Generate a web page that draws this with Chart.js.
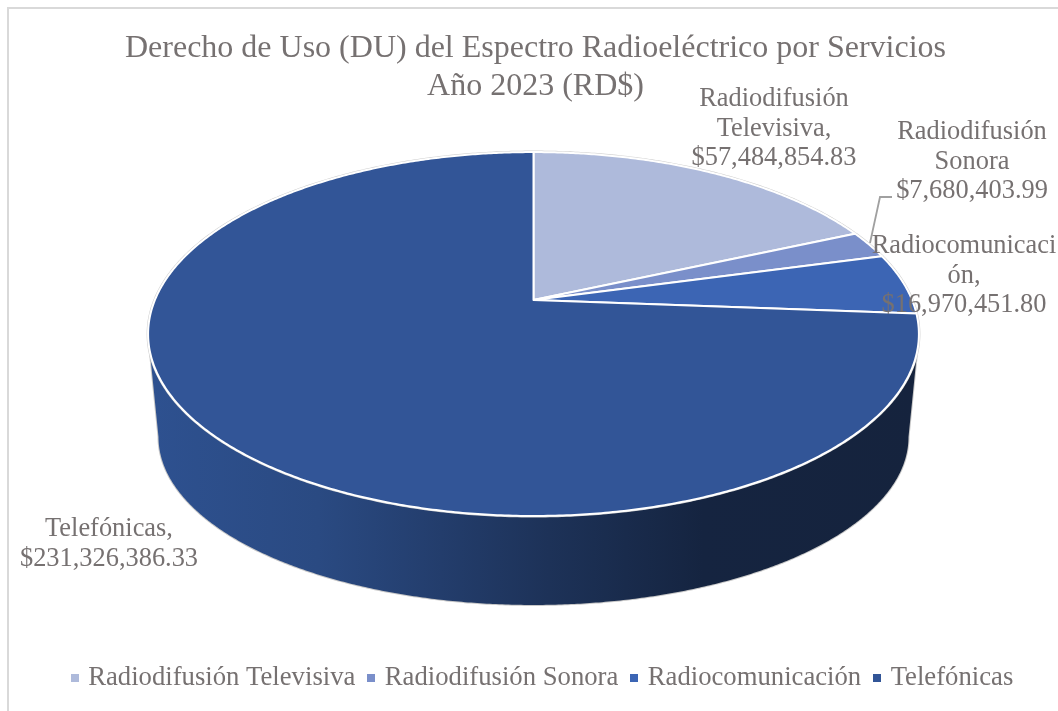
<!DOCTYPE html>
<html><head><meta charset="utf-8">
<style>html,body{margin:0;padding:0;background:#fff;overflow:hidden}canvas{display:block}</style>
<script src="https://cdn.jsdelivr.net/npm/chart.js@4/dist/chart.umd.js"></script>
</head><body><canvas id="c" width="1058" height="711"></canvas>
<script>
const categories = ['Radiodifusión Televisiva','Radiodifusión Sonora','Radiocomunicación','Telefónicas'];
const values = [57484854.83, 7680403.99, 16970451.80, 231326386.33];
const colors = ['#aebadb','#7a8fca','#3c65b4','#325597'];
const titleLines = ['Derecho de Uso (DU) del Espectro Radioeléctrico por Servicios','Año 2023 (RD$)'];
const dataLabelLines = [
  ['Radiodifusión','Televisiva,','$57,484,854.83'],
  ['Radiodifusión','Sonora','$7,680,403.99'],
  ['Radiocomunicaci','ón,','$16,970,451.80'],
  ['Telefónicas,','$231,326,386.33']
];
const SERIF = '"Liberation Serif","Times New Roman",serif';
const TEXT = '#767171';
// layout of the tilted disc
const P = {cx:533.5, apexY:300, a:378.6, b:175.6, k:-0.187, depthApexY:405.6, sx:0.973, sy:0.923};
const labelAnchors = [[774,106],[972,139],[964,253],[109,536]];
const LABEL_FONT = 26.4, LABEL_LH = 29.7;
const EDGE = 0.188; // angle past the horizontal where the rim is widest

function topPt(t){const u=Math.cos(t),v=Math.sin(t),w=1+P.k*v;return [P.cx+P.a*u/w,P.apexY+P.b*v/w];}
function botPt(t){const u=Math.cos(t),v=Math.sin(t),w=1+P.k*v;return [P.cx+P.sx*P.a*u/w,P.depthApexY+P.sy*P.b*v/w];}

const disc3d = {
  id:'disc3d',
  afterLayout(chart){ chart.legend.left+=8.5; chart.legend.right+=8.5; },
  beforeDraw(chart){
    const c=chart.ctx;c.save();c.strokeStyle='#d9d9d9';c.lineWidth=2;
    c.strokeRect(8,8,1100,800);c.restore();
  },
  beforeDatasetsDraw(chart){
    const c=chart.ctx, arcs=chart.getDatasetMeta(0).data;
    const N=400, t0=EDGE, t1=Math.PI-EDGE;
    c.save();
    const side=new Path2D();
    for(let i=0;i<=N;i++){const p=botPt(t0+(t1-t0)*i/N);i?side.lineTo(p[0],p[1]):side.moveTo(p[0],p[1]);}
    for(let i=N;i>=0;i--){const p=topPt(t0+(t1-t0)*i/N);side.lineTo(p[0],p[1]);}
    side.closePath();
    const g=c.createLinearGradient(148,0,919,0);
    g.addColorStop(0,'#2e5190');g.addColorStop(0.22,'#2a4a82');g.addColorStop(0.38,'#233d6c');
    g.addColorStop(0.52,'#1d3258');g.addColorStop(0.72,'#152440');g.addColorStop(1,'#15233d');
    c.strokeStyle='#c8c8c8';c.lineWidth=2;c.stroke(side);
    c.fillStyle=g;c.fill(side);
    c.beginPath();
    for(let i=0;i<=720;i++){const p=topPt(i/720*2*Math.PI);i?c.lineTo(p[0],p[1]):c.moveTo(p[0],p[1]);}
    c.closePath();c.strokeStyle='#cfcfcf';c.lineWidth=3;c.stroke();
    arcs.forEach((arc,i)=>{
      const p=arc.getProps(['startAngle','endAngle'],true);
      c.beginPath();c.moveTo(P.cx,P.apexY);
      const n=Math.max(8,Math.ceil((p.endAngle-p.startAngle)*120));
      for(let j=0;j<=n;j++){const q=topPt(p.startAngle+(p.endAngle-p.startAngle)*j/n);c.lineTo(q[0],q[1]);}
      c.closePath();c.fillStyle=colors[i];c.fill();
      c.strokeStyle='#ffffff';c.lineWidth=2;c.lineJoin='round';c.stroke();
    });
    c.restore();
    return false;
  },
  afterDraw(chart){
    const c=chart.ctx;c.save();
    c.strokeStyle='#a0a0a0';c.lineWidth=1.8;c.beginPath();
    c.moveTo(870,243);c.lineTo(880,197);c.lineTo(892,197);c.stroke();
    c.font=LABEL_FONT+'px '+SERIF;c.fillStyle=TEXT;c.textAlign='center';c.textBaseline='alphabetic';
    dataLabelLines.forEach((lines,i)=>{
      lines.forEach((s,j)=>c.fillText(s,labelAnchors[i][0],labelAnchors[i][1]+j*LABEL_LH));
    });
    c.restore();
  }
};
function swatch(col){const s=document.createElement('canvas');s.width=8;s.height=8;const x=s.getContext('2d');x.fillStyle=col;x.fillRect(0,0,8,8);return s;}

new Chart(document.getElementById('c'),{
  type:'pie',
  data:{labels:categories,datasets:[{data:values,backgroundColor:colors,borderColor:'#fff'}]},
  plugins:[disc3d],
  options:{
    responsive:false,animation:false,
    layout:{padding:{left:13,right:0,top:30,bottom:10}},
    plugins:{
      tooltip:{enabled:false},
      title:{display:true,text:titleLines,color:TEXT,font:{family:SERIF,size:32,weight:'normal',lineHeight:1.17},padding:0},
      legend:{position:'bottom',labels:{
        color:TEXT,font:{family:SERIF,size:26.7},padding:16,usePointStyle:true,pointStyleWidth:0.1,boxHeight:8,
        generateLabels(chart){return categories.map((t,i)=>({text:t,fillStyle:colors[i],strokeStyle:colors[i],fontColor:TEXT,lineWidth:0,pointStyle:swatch(colors[i]),index:i,hidden:false}));}
      }}
    }
  }
});
</script></body></html>
